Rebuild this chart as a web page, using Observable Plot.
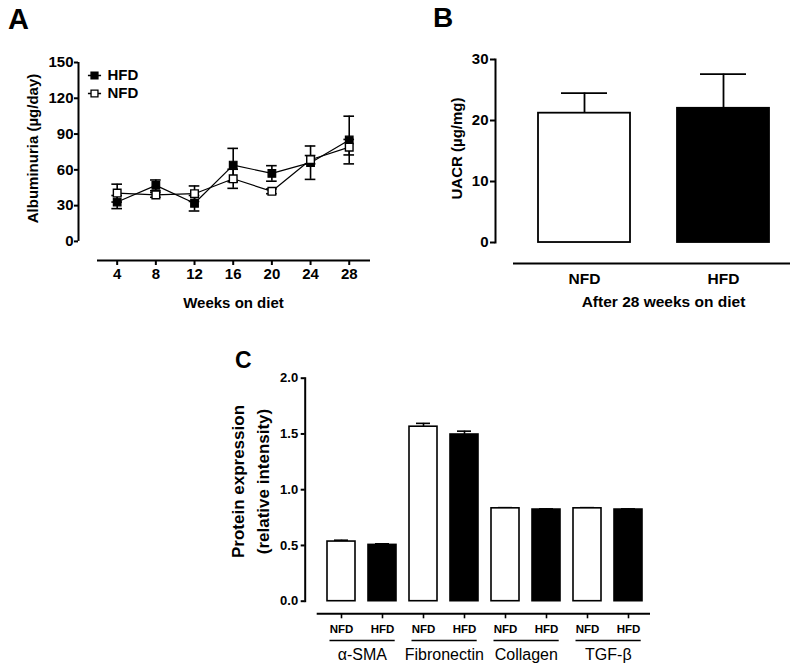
<!DOCTYPE html>
<html><head><meta charset="utf-8">
<script src="https://cdn.jsdelivr.net/npm/d3@7"></script>
<script src="https://cdn.jsdelivr.net/npm/@observablehq/plot@0.6"></script>
<style>
html,body{margin:0;padding:0;background:#fff;}
#fig{position:relative;width:800px;height:667px;overflow:hidden;font-family:"Liberation Sans",Arial,sans-serif;background:#fff;}
.panel{position:absolute;}
.letter{position:absolute;font-weight:bold;line-height:1;color:#000;font-family:"Liberation Sans",Arial,sans-serif;}
</style></head><body><div id="fig"></div>
<script>
// ---- Panel A data: albuminuria over time ----
const weeks = [4, 8, 12, 16, 20, 24, 28];
const albHFD = [33, 47, 32, 64, 57, 66, 85];
const albHFDErr = [5.5, 4.5, 6.5, 14, 6.5, 14, 20];
const albNFD = [40.5, 39, 40, 52.5, 42, 68.5, 79];
const albNFDErr = [7.5, 2, 6.5, 8, 2, 3.5, 6.5];
const albTicks = [0, 30, 60, 90, 120, 150];

// ---- Panel B data: UACR ----
const dietsB = ["NFD", "HFD"];
const uacr = [21.2, 22.0];
const uacrErr = [3.3, 5.6];
const uacrTicks = [0, 10, 20, 30];

// ---- Panel C data: protein expression ----
const proteins = ["α-SMA", "Fibronectin", "Collagen", "TGF-β"];
const protNFD = [0.535, 1.565, 0.833, 0.833];
const protNFDErr = [0.012, 0.03, 0.006, 0.006];
const protHFD = [0.505, 1.495, 0.822, 0.822];
const protHFDErr = [0.01, 0.03, 0.006, 0.006];
const protTicks = [0, 0.5, 1.0, 1.5, 2.0];

const FONT = '"Liberation Sans", Arial, sans-serif';
const fig = document.getElementById("fig");
function place(el, left, top) {
  const d = document.createElement("div");
  d.className = "panel"; d.style.left = left + "px"; d.style.top = top + "px";
  d.appendChild(el); fig.appendChild(d);
}
function letter(t, left, top, size) {
  const d = document.createElement("div");
  d.className = "letter"; d.textContent = t;
  d.style.left = left + "px"; d.style.top = top + "px"; d.style.fontSize = size + "px";
  fig.appendChild(d);
}
const baseStyle = {fontFamily: FONT, fontWeight: "bold", fontSize: "15px", color: "#000", background: "transparent", overflow: "visible"};

// ---------------- Panel A ----------------
const rowsA = weeks.flatMap((w, i) => [
  {week: w, diet: "HFD", v: albHFD[i], e: albHFDErr[i]},
  {week: w, diet: "NFD", v: albNFD[i], e: albNFDErr[i]}
]);
const yA = [-16, 150];
const capA = 0.55;
const legendSym = {
  draw(ctx, size) {
    const s = Math.sqrt(size) / 2;
    ctx.moveTo(-s * 1.9, 0); ctx.lineTo(-s, 0);
    ctx.moveTo(s, 0); ctx.lineTo(s * 1.9, 0);
    ctx.moveTo(-s, -s); ctx.lineTo(s, -s); ctx.lineTo(s, s); ctx.lineTo(-s, s); ctx.closePath();
  }
};
const plotA = Plot.plot({
  width: 400, height: 320,
  marginLeft: 78, marginRight: 30, marginTop: 62, marginBottom: 60,
  x: {domain: [0, 30.2]},
  y: {domain: yA},
  style: baseStyle,
  marks: [
    Plot.ruleX([0], {y1: 0, y2: 150, strokeWidth: 2}),
    Plot.ruleY([yA[0]], {insetLeft: 19, strokeWidth: 2}),
    Plot.axisY({ticks: albTicks, tickSize: 4, tickPadding: 1, label: null, fontSize: 15, fontWeight: "bold", strokeWidth: 2}),
    Plot.axisX({ticks: weeks, tickSize: 5, tickPadding: 3, label: null, fontSize: 15, fontWeight: "bold", strokeWidth: 2}),
    Plot.line(rowsA, {x: "week", y: "v", z: "diet", stroke: "#000", strokeWidth: 1.2}),
    Plot.ruleX(rowsA, {x: "week", y1: d => d.v - d.e, y2: d => d.v + d.e, strokeWidth: 1.6}),
    Plot.ruleY(rowsA, {y: d => d.v + d.e, x1: d => d.week - capA, x2: d => d.week + capA, strokeWidth: 1.6}),
    Plot.ruleY(rowsA, {y: d => d.v - d.e, x1: d => d.week - capA, x2: d => d.week + capA, strokeWidth: 1.6}),
    Plot.dot(rowsA.filter(d => d.diet === "HFD"), {x: "week", y: "v", symbol: "square", r: 4.3, fill: "#000", stroke: "#000", strokeWidth: 1.2}),
    Plot.dot(rowsA.filter(d => d.diet === "NFD"), {x: "week", y: "v", symbol: "square", r: 4.3, fill: "#fff", stroke: "#000", strokeWidth: 1.4}),
    // legend
    Plot.dot(["HFD"], {frameAnchor: "top-left", dx: 16, dy: 13, symbol: legendSym, r: 3.9, fill: "#000", stroke: "#000", strokeWidth: 1.3}),
    Plot.dot(["NFD"], {frameAnchor: "top-left", dx: 16, dy: 31, symbol: legendSym, r: 3.9, fill: "#fff", stroke: "#000", strokeWidth: 1.3}),
    Plot.text(["HFD"], {frameAnchor: "top-left", dx: 29, dy: 13, text: d => d, textAnchor: "start", lineAnchor: "middle", fontSize: 15, fontWeight: "bold"}),
    Plot.text(["NFD"], {frameAnchor: "top-left", dx: 29, dy: 31, text: d => d, textAnchor: "start", lineAnchor: "middle", fontSize: 15, fontWeight: "bold"}),
    // axis titles
    Plot.text(["Albuminuria (µg/day)"], {frameAnchor: "left", dx: -45, dy: -13, rotate: -90, textAnchor: "middle", lineAnchor: "middle", text: d => d, fontSize: 15, fontWeight: "bold"}),
    Plot.text(["Weeks on diet"], {frameAnchor: "bottom", dx: 9, dy: 43, textAnchor: "middle", lineAnchor: "middle", text: d => d, fontSize: 15, fontWeight: "bold"})
  ]
});
place(plotA, 0, 0);

// ---------------- Panel B ----------------
const rowsB = dietsB.map((d, i) => ({diet: d, v: uacr[i], e: uacrErr[i]}));
const yB = [-3.44, 30];
const plotB = Plot.plot({
  width: 400, height: 320,
  marginLeft: 95, marginRight: 10, marginTop: 59, marginBottom: 57,
  x: {type: "band", domain: dietsB, range: [90, 417], padding: 0.336},
  y: {domain: yB},
  style: baseStyle,
  marks: [
    Plot.frame({anchor: "left", insetBottom: 21, strokeWidth: 2}),
    Plot.ruleY([yB[0]], {insetLeft: 18, strokeWidth: 2}),
    Plot.axisY({ticks: uacrTicks, tickSize: 5, tickPadding: 2, label: null, fontSize: 15, fontWeight: "bold", strokeWidth: 2}),
    Plot.axisX({tickSize: 0, tickPadding: 9, label: null, fontSize: 15.5, fontWeight: "bold"}),
    Plot.ruleX(rowsB, {x: "diet", y1: "v", y2: d => d.v + d.e, strokeWidth: 1.8}),
    Plot.tickY(rowsB, {x: "diet", y: d => d.v + d.e, insetLeft: 23, insetRight: 23, strokeWidth: 1.8}),
    Plot.barY(rowsB, {x: "diet", y: "v", fill: d => d.diet === "HFD" ? "#000" : "#fff", stroke: "#000", strokeWidth: 1.8}),
    Plot.text(["UACR (µg/mg)"], {frameAnchor: "left", dx: -38, dy: -13, rotate: -90, textAnchor: "middle", lineAnchor: "middle", text: d => d, fontSize: 15, fontWeight: "bold"}),
    Plot.text(["After 28 weeks on diet"], {frameAnchor: "bottom", dx: 20.5, dy: 39, textAnchor: "middle", lineAnchor: "middle", text: d => d, fontSize: 15.5, fontWeight: "bold"})
  ]
});
place(plotB, 400, 0);

// ---------------- Panel C ----------------
const keysC = proteins.flatMap(p => ["NFD", "HFD"].map(d => p + "|" + d));
const rowsC = proteins.flatMap((p, i) => [
  {key: p + "|NFD", diet: "NFD", v: protNFD[i], e: protNFDErr[i]},
  {key: p + "|HFD", diet: "HFD", v: protHFD[i], e: protHFDErr[i]}
]);
const yC = [-0.113, 2.0];
const rangeC = [111, 457.3], padC = 0.311;
const stepC = (rangeC[1] - rangeC[0]) / (keysC.length - padC + 2 * padC);
const plotC = Plot.plot({
  width: 460, height: 337,
  marginLeft: 104.7, marginRight: 10, marginTop: 47.7, marginBottom: 53.7,
  x: {type: "band", domain: keysC, range: rangeC, padding: padC},
  y: {domain: yC},
  style: baseStyle,
  marks: [
    Plot.frame({anchor: "left", insetBottom: 12.6, strokeWidth: 2}),
    Plot.ruleY([yC[0]], {insetLeft: 12, strokeWidth: 2}),
    Plot.axisY({ticks: protTicks, tickFormat: d3.format(".1f"), tickSize: 4, tickPadding: 3, label: null, fontSize: 13, fontWeight: "bold", strokeWidth: 2}),
    Plot.axisX({tickSize: 5, tickPadding: 6.5, tickFormat: k => k.split("|")[1], label: null, fontSize: 11.5, fontWeight: "bold", strokeWidth: 1.6}),
    Plot.ruleX(rowsC, {x: "key", y1: "v", y2: d => d.v + d.e, strokeWidth: 1.6}),
    Plot.tickY(rowsC, {x: "key", y: d => d.v + d.e, insetLeft: 7, insetRight: 7, strokeWidth: 1.6}),
    Plot.barY(rowsC, {x: "key", y: "v", fill: d => d.diet === "HFD" ? "#000" : "#fff", stroke: "#000", strokeWidth: 1.6}),
    Plot.ruleY(proteins, {y: () => yC[0], dy: 26.7, x1: p => p + "|NFD", x2: p => p + "|HFD", insetLeft: 2.5, insetRight: 1.3, strokeWidth: 1.5}),
    Plot.text(proteins, {x: p => p + "|NFD", y: () => yC[0], dx: stepC / 2, dy: 40.7, text: d => d, fontSize: 16, fontWeight: "normal"}),
    Plot.text(["Protein expression\n(relative intensity)"], {frameAnchor: "left", dx: -56.7, dy: -14.5, rotate: -90, textAnchor: "middle", lineAnchor: "middle", text: d => d, lineHeight: 1.5, fontSize: 17, fontWeight: "bold"})
  ]
});
place(plotC, 200, 330);

letter("A", 8, 4.7, 29);
letter("B", 433, 3.5, 28);
letter("C", 235, 349.4, 23);
</script>
</body></html>
